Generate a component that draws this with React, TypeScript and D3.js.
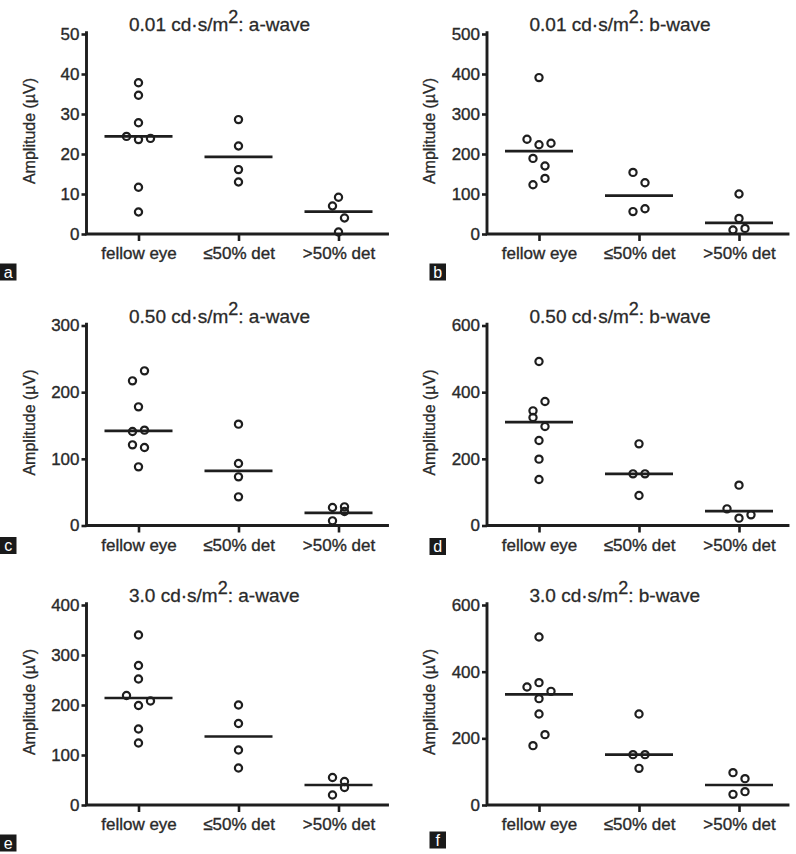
import { useEffect, useRef } from "react";
import * as d3 from "d3";

// group names on the x axis
const CATEGORIES = ["fellow eye", "≤50% det", ">50% det"];

// panel headers
const PANEL_LETTERS = ["a", "b", "c", "d", "e", "f"];
const FLASH = ["0.01", "0.01", "0.50", "0.50", "3.0", "3.0"];
const WAVE = ["a-wave", "b-wave", "a-wave", "b-wave", "a-wave", "b-wave"];

// y axis ranges / tick steps
const Y_MAX = [50, 500, 300, 600, 400, 600];
const Y_STEP = [10, 100, 100, 200, 100, 200];

// amplitudes (µV) per group
const A_VALUES = [
  [37.8, 34.7, 27.8, 24.4, 23.6, 23.9, 11.7, 5.5],
  [28.6, 22.0, 16.1, 13.0],
  [9.2, 7.0, 4.0, 0.5],
];
const B_VALUES = [
  [391, 237, 223, 227, 189, 170, 139, 123],
  [154, 128, 56, 63],
  [100, 39, 10, 14],
];
const C_VALUES = [
  [232, 217, 178, 141, 143, 121, 117, 88],
  [152, 93, 73, 43],
  [27, 28, 21, 7],
];
const D_VALUES = [
  [492, 372, 344, 324, 297, 255, 199, 138],
  [245, 155, 155, 90],
  [121, 50, 22, 32],
];
const E_VALUES = [
  [340, 279, 252, 219, 199, 208, 152, 124],
  [200, 163, 110, 74],
  [55, 47, 35, 20],
];
const F_VALUES = [
  [504, 367, 354, 341, 319, 273, 211, 178],
  [273, 151, 151, 110],
  [97, 79, 40, 32],
];

// horizontal line per group
const A_LINES = [24.4, 19.3, 5.6];
const B_LINES = [207, 96, 28];
const C_LINES = [142, 82, 19];
const D_LINES = [310, 155, 43];
const E_LINES = [214, 137, 40];
const F_LINES = [332, 151, 60];

// scatter spread slot of each point (side-by-side placement of close values)
const A_SLOTS = [[0, 0, 0, -2, 0, 2, 0, 0], [0, 0, 0, 0], [0, -1, 1, 0]];
const B_SLOTS = [[0, -2, 0, 2, -1, 1, 1, -1], [-1, 1, -1, 1], [0, 0, -1, 1]];
const C_SLOTS = [[1, -1, 0, -1, 1, -1, 1, 0], [0, 0, 0, 0], [-1, 1, 1, -1]];
const D_SLOTS = [[0, 1, -1, -1, 1, 0, 0, 0], [0, -1, 1, 0], [0, -2, 0, 2]];
const E_SLOTS = [[0, 0, 0, -2, 0, 2, 0, 0], [0, 0, 0, 0], [-1, 1, 1, -1]];
const F_SLOTS = [[0, 0, -2, 2, 0, 0, 1, -1], [0, -1, 1, 0], [-1, 1, 1, -1]];

const ALL_VALUES = [A_VALUES, B_VALUES, C_VALUES, D_VALUES, E_VALUES, F_VALUES];
const ALL_LINES = [A_LINES, B_LINES, C_LINES, D_LINES, E_LINES, F_LINES];
const ALL_SLOTS = [A_SLOTS, B_SLOTS, C_SLOTS, D_SLOTS, E_SLOTS, F_SLOTS];

const FONT = "'Liberation Sans', Arial, sans-serif";
const INK = "#1e1e1e";
const TEXT = "#2a2a2a";

// layout
const COL_X = [0, 400.5];
const ROW_TOP = [34, 325.5, 605];
const PLOT_H = 200;
const LETTER_DY = [29.5, 29.5, 11.5, 12.5, 29.5, 26.5];

export default function App() {
  const svgRef = useRef<SVGSVGElement>(null);

  useEffect(() => {
    if (!svgRef.current) return;
    const svg = d3.select(svgRef.current);
    svg.selectAll("*").remove();

    svg.append("rect").attr("width", 796).attr("height", 854).attr("fill", "#fff");

    PANEL_LETTERS.forEach((letter, i) => {
      const ox = COL_X[i % 2];
      const top = ROW_TOP[Math.floor(i / 2)];
      const bottom = top + PLOT_H;
      const axisX = ox + 86.5;
      const axisEnd = ox + 387.5;

      const g = svg.append("g").style("font-family", FONT);

      const y = d3.scaleLinear().domain([0, Y_MAX[i]]).range([bottom, top]);
      const x = d3
        .scalePoint<string>()
        .domain(CATEGORIES)
        .range([ox + 138.5, ox + 338.5]);

      // y axis
      const yAxis = g
        .append("g")
        .attr("transform", `translate(${axisX},0)`)
        .call(
          d3
            .axisLeft(y)
            .tickValues(d3.range(0, Y_MAX[i] + 1, Y_STEP[i]))
            .tickSize(5)
            .tickSizeOuter(0)
            .tickPadding(2),
        );
      yAxis.select(".domain").remove();
      yAxis.selectAll(".tick line").attr("stroke", INK).attr("stroke-width", 2.6);
      yAxis
        .selectAll("text")
        .attr("fill", TEXT)
        .attr("stroke", TEXT)
        .attr("stroke-width", 0.35)
        .style("font-size", "17px")
        .style("font-family", FONT);

      // x axis ticks + labels
      const xAxis = g
        .append("g")
        .attr("transform", `translate(0,${bottom})`)
        .call(d3.axisBottom(x).tickSize(7).tickSizeOuter(0).tickPadding(6));
      xAxis.select(".domain").remove();
      xAxis.selectAll(".tick line").attr("stroke", INK).attr("stroke-width", 2.6);
      xAxis
        .selectAll("text")
        .attr("fill", TEXT)
        .attr("stroke", TEXT)
        .attr("stroke-width", 0.35)
        .style("font-size", "17px")
        .style("font-family", FONT);

      // axis lines
      g.append("path")
        .attr("d", `M${axisX},${top - 1.3}V${bottom}H${axisEnd}`)
        .attr("fill", "none")
        .attr("stroke", INK)
        .attr("stroke-width", 2.9)
        .attr("stroke-linecap", "square");

      // group lines
      g.selectAll(".centre")
        .data(ALL_LINES[i])
        .join("line")
        .attr("x1", (_, j) => x(CATEGORIES[j])! - 34)
        .attr("x2", (_, j) => x(CATEGORIES[j])! + 34)
        .attr("y1", (d) => y(d))
        .attr("y2", (d) => y(d))
        .attr("stroke", INK)
        .attr("stroke-width", 2.7);

      // points
      const pts = ALL_VALUES[i].flatMap((vals, j) =>
        vals.map((v, k) => ({ cat: CATEGORIES[j], v, slot: ALL_SLOTS[i][j][k] })),
      );
      g.selectAll("circle")
        .data(pts)
        .join("circle")
        .attr("cx", (d) => x(d.cat)! + d.slot * 6)
        .attr("cy", (d) => y(d.v))
        .attr("r", 3.6)
        .attr("fill", "none")
        .attr("stroke", INK)
        .attr("stroke-width", 2.2);

      // title
      const title = g
        .append("text")
        .attr("x", ox + 129)
        .attr("y", top - 3)
        .attr("fill", TEXT)
        .attr("stroke", TEXT)
        .attr("stroke-width", 0.3)
        .style("font-size", "19px");
      title.append("tspan").text(`${FLASH[i]} cd·s/m`);
      title.append("tspan").attr("dy", -8).style("font-size", "18px").text("2");
      title.append("tspan").attr("dy", 8).text(`: ${WAVE[i]}`);

      // y label
      g.append("text")
        .attr("transform", `translate(${ox + 29},${(top + bottom) / 2 - 3}) rotate(-90)`)
        .attr("text-anchor", "middle")
        .attr("dominant-baseline", "central")
        .attr("fill", TEXT)
        .attr("stroke", TEXT)
        .attr("stroke-width", 0.3)
        .style("font-size", "16px")
        .text("Amplitude (µV)");

      // panel letter
      const lx = i % 2 === 0 ? 0 : ox + 29;
      const ly = bottom + LETTER_DY[i];
      g.append("rect")
        .attr("x", lx)
        .attr("y", ly)
        .attr("width", 16.5)
        .attr("height", 17)
        .attr("fill", "#1a1a1a");
      g.append("text")
        .attr("x", lx + 8.25)
        .attr("y", ly + 8.5)
        .attr("text-anchor", "middle")
        .attr("dominant-baseline", "central")
        .attr("fill", "#fff")
        .style("font-size", "16px")
        .text(letter);
    });
  }, []);

  return (
    <svg
      ref={svgRef}
      width={796}
      height={854}
      style={{ position: "absolute", left: 0, top: 0, display: "block" }}
    />
  );
}
